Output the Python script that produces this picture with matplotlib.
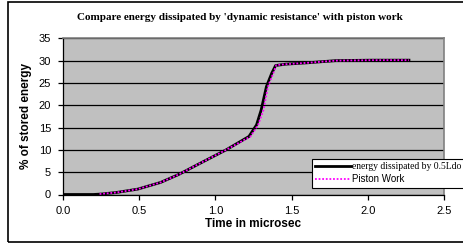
import matplotlib
matplotlib.use("Agg")
import matplotlib.pyplot as plt
from matplotlib.patches import Rectangle

# time in microsec, % of stored energy
time_diss = [0.0, 0.1, 0.2, 0.25, 0.35, 0.49, 0.64, 0.76, 0.90, 1.07, 1.22, 1.27,
             1.30, 1.335, 1.37, 1.395, 1.46, 1.60, 1.79, 2.03, 2.27]
energy_diss = [0.0, 0.0, 0.0, 0.1, 0.45, 1.2, 2.7, 4.5, 7.0, 10.0, 13.0, 15.6,
               18.9, 24.2, 27.2, 28.9, 29.2, 29.5, 30.0, 30.1, 30.1]

time_piston = [0.24, 0.35, 0.49, 0.64, 0.76, 0.90, 1.07, 1.23, 1.28, 1.315, 1.345,
               1.38, 1.40, 1.465, 1.60, 1.79, 2.03, 2.27]
energy_piston = [0.1, 0.45, 1.2, 2.7, 4.5, 7.0, 10.0, 13.0, 15.6, 18.9, 24.2,
                 27.2, 29.0, 29.2, 29.5, 30.0, 30.1, 30.1]

xticks = [0.0, 0.5, 1.0, 1.5, 2.0, 2.5]
yticks = [0, 5, 10, 15, 20, 25, 30, 35]

fig = plt.figure(figsize=(4.64, 2.44), dpi=100)
fig.patch.set_facecolor("white")
fig.patches.append(Rectangle((8 / 464, 2 / 244), 1.2, 240 / 244, transform=fig.transFigure,
                             fill=False, edgecolor="black", linewidth=1.2, clip_on=False))

ax = fig.add_axes([63 / 464, (244 - 194.5) / 244, 381 / 464, 156.2 / 244])
ax.set_facecolor("#C0C0C0")
ax.set_xlim(0, 2.5)
ax.set_ylim(0, 35)
ax.set_xticks(xticks)
ax.set_xticklabels(["%.1f" % v for v in xticks])
ax.set_yticks(yticks)
ax.yaxis.grid(True, color="black", linewidth=0.9)
ax.set_axisbelow(True)
for s in ["top", "right"]:
    ax.spines[s].set_color("#808080")
    ax.spines[s].set_linewidth(1.2)
for s in ["left", "bottom"]:
    ax.spines[s].set_color("black")
    ax.spines[s].set_linewidth(0.9)
ax.tick_params(axis="both", direction="out", length=3.6, width=0.9, labelsize=8,
               colors="black")
ax.tick_params(axis="x", pad=5)
ax.tick_params(axis="y", pad=5)
for lab in ax.get_xticklabels() + ax.get_yticklabels():
    lab.set_fontfamily("Liberation Sans")

l1, = ax.plot(time_diss, energy_diss, color="black", linewidth=2.0,
              label="energy dissipated by 0.5Ldo")
l2, = ax.plot(time_piston, energy_piston, color="#FF00FF", linewidth=1.3,
              dashes=(1, 1), label="Piston Work")

ax.set_xlabel("Time in microsec", fontsize=8.5, fontweight="bold",
              fontfamily="Liberation Sans", labelpad=1)
ax.set_ylabel("% of stored energy", fontsize=8.5, fontweight="bold",
              fontfamily="Liberation Sans", labelpad=5)

fig.text(240 / 464, 1 - 18 / 244, "Compare energy dissipated by 'dynamic resistance' with piston work",
         ha="center", va="center", fontsize=8, fontweight="bold",
         fontfamily="Liberation Serif")

leg = ax.legend(loc="upper left", bbox_to_anchor=((312 - 63) / 381, (194.5 - 159) / 156.2),
                frameon=True, fancybox=False, framealpha=1, edgecolor="black",
                borderpad=0.35, handlelength=3.7, handletextpad=0.05, labelspacing=0.3,
                borderaxespad=0, fontsize=7)
leg.get_frame().set_linewidth(0.8)
texts = leg.get_texts()
texts[0].set_fontfamily("Liberation Serif")
texts[0].set_fontsize(6.9)
texts[1].set_fontfamily("Liberation Sans")
leg.set_clip_on(False)

fig.savefig("out.png", dpi=100)
